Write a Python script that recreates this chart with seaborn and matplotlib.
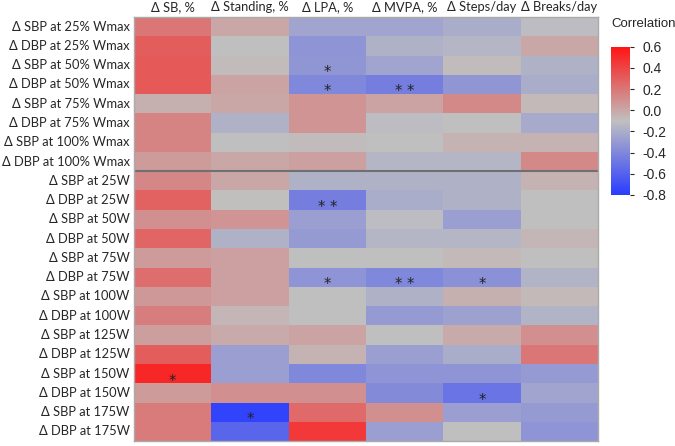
import numpy as np
import pandas as pd
import seaborn as sns
import matplotlib.pyplot as plt
from matplotlib.colors import LinearSegmentedColormap

sns.set_theme(style="white")
plt.rcParams['font.family'] = ['Lato', 'DejaVu Sans']

# Data
rows = ['Δ SBP at 25% Wmax', 'Δ DBP at 25% Wmax', 'Δ SBP at 50% Wmax', 'Δ DBP at 50% Wmax',
        'Δ SBP at 75% Wmax', 'Δ DBP at 75% Wmax', 'Δ SBP at 100% Wmax', 'Δ DBP at 100% Wmax',
        'Δ SBP at 25W', 'Δ DBP at 25W', 'Δ SBP at 50W', 'Δ DBP at 50W',
        'Δ SBP at 75W', 'Δ DBP at 75W', 'Δ SBP at 100W', 'Δ DBP at 100W',
        'Δ SBP at 125W', 'Δ DBP at 125W', 'Δ SBP at 150W', 'Δ DBP at 150W',
        'Δ SBP at 175W', 'Δ DBP at 175W']
cols = ['Δ SB, %', 'Δ Standing, %', 'Δ LPA, %', 'Δ MVPA, %', 'Δ Steps/day', 'Δ Breaks/day']

sb = [0.20, 0.30, 0.32, 0.32, -0.03, 0.15, 0.15, 0.05, 0.13, 0.28, 0.10,
      0.27, 0.05, 0.23, 0.06, 0.17, 0.04, 0.30, 0.52, 0.05, 0.18, 0.18]
standing = [0.00, -0.10, -0.08, 0.02, 0.00, -0.18, -0.10, 0.00, 0.00, -0.09, 0.08,
            -0.18, 0.03, 0.03, 0.03, -0.06, -0.01, -0.28, -0.28, 0.10, -0.76, -0.58]
lpa = [-0.25, -0.33, -0.32, -0.40, 0.08, 0.08, -0.08, 0.03, -0.18, -0.45, -0.28,
       -0.30, -0.10, -0.33, -0.10, -0.10, 0.02, -0.05, -0.40, 0.10, 0.25, 0.45]
mvpa = [-0.25, -0.18, -0.25, -0.45, 0.02, -0.12, -0.10, -0.15, -0.18, -0.20, -0.12,
        -0.15, -0.10, -0.40, -0.18, -0.30, -0.10, -0.28, -0.33, -0.38, 0.10, -0.28]
steps = [-0.20, -0.15, -0.08, -0.32, 0.12, -0.10, -0.04, -0.15, -0.18, -0.18, -0.28,
         -0.15, -0.07, -0.35, -0.03, -0.26, -0.01, -0.20, -0.33, -0.50, -0.28, -0.10]
breaks = [-0.12, 0.00, -0.18, -0.20, -0.07, -0.22, -0.05, 0.12, -0.05, -0.10, -0.10,
          -0.06, -0.10, -0.17, -0.07, -0.17, 0.10, 0.20, -0.30, -0.25, -0.30, -0.33]

# significance marks: (row, col, label)
stars = [(2, 2, '*'), (3, 2, '*'), (3, 3, '* *'), (9, 2, '* *'),
         (13, 2, '*'), (13, 3, '* *'), (13, 4, '*'),
         (18, 0, '*'), (19, 4, '*'), (20, 1, '*')]
cbar_ticks = [-0.8, -0.6, -0.4, -0.2, 0.0, 0.2, 0.4, 0.6]

df = pd.DataFrame({cols[0]: sb, cols[1]: standing, cols[2]: lpa,
                   cols[3]: mvpa, cols[4]: steps, cols[5]: breaks}, index=rows)
annot = np.full(df.shape, '', dtype=object)
for r, c, s in stars:
    annot[r, c] = s

cmap = LinearSegmentedColormap.from_list('corr', ['#2a3cff', '#c0c0c0', '#ff1414'])

fig = plt.figure(figsize=(6.75, 4.46), dpi=100)
ax = fig.add_axes([0.1985, 0.011, 0.6875, 0.951])
cax = fig.add_axes([0.905, 0.563, 0.028, 0.332])

sns.heatmap(df, ax=ax, cbar_ax=cax, cmap=cmap, vmin=-0.8, vmax=0.6,
            annot=annot, fmt='',
            annot_kws={'color': '#222222', 'fontsize': 10.5, 'family': 'DejaVu Sans', 'va': 'top'})

ax.xaxis.tick_top()
ax.tick_params(axis='both', length=0, labelsize=9.3, pad=3)
ax.set_xticklabels(cols, rotation=0)
ax.set_yticklabels(rows, rotation=0)
ax.set_xlabel('')
ax.set_ylabel('')
ax.axhline(8, color='#707070', lw=1.5)
for s in ax.spines.values():
    s.set_visible(True)
    s.set_color('#aaaaaa')
    s.set_linewidth(1)

# colorbar ticks tinted like the bar
cax.set_yticks(cbar_ticks)
cax.set_yticklabels([f'{t:.1f}' for t in cbar_ticks])
cax.tick_params(length=3, width=0.8, labelsize=10, pad=6,
                labelfontfamily='Liberation Sans')
tick_lines = cax.yaxis.get_ticklines()[::2]
for t, line in zip(cbar_ticks, tick_lines):
    line.set_color(cmap((t + 0.8) / 1.4))
cax.set_title('Correlation', fontsize=9.5, family='Liberation Sans', loc='left', pad=14)

fig.savefig('out.png', dpi=100)
